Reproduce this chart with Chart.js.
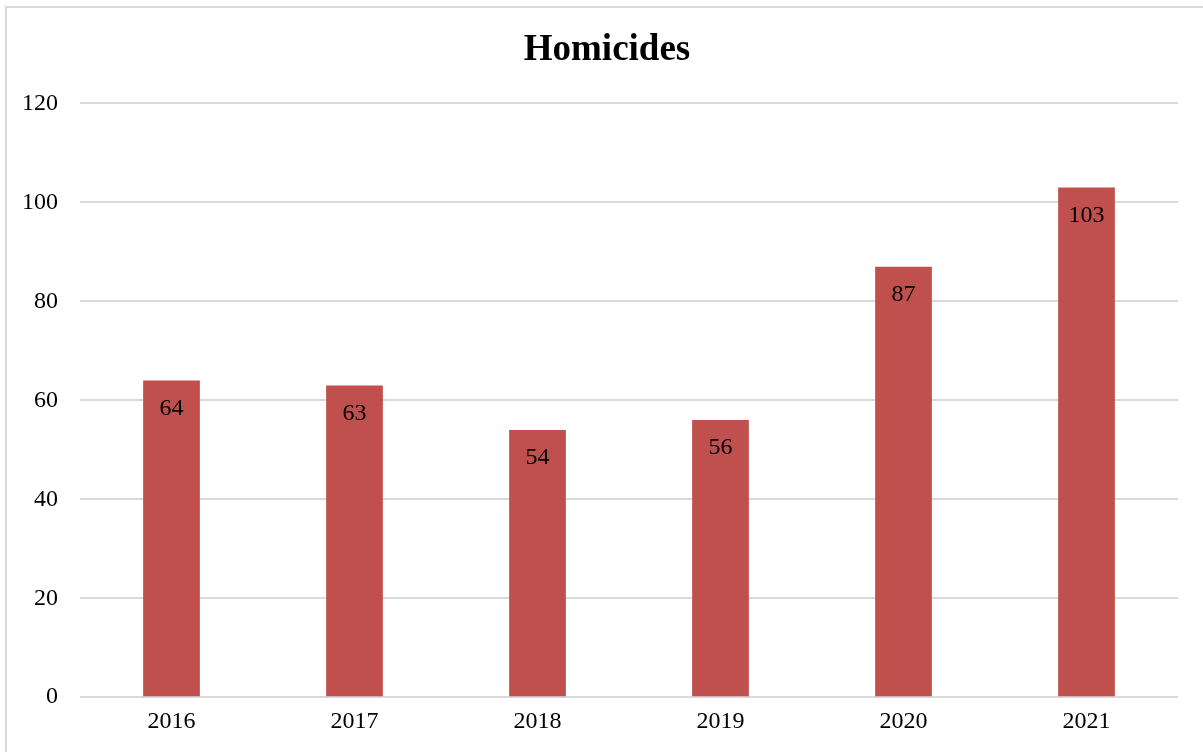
<!DOCTYPE html>
<html>
<head>
<meta charset="utf-8">
<script src="https://cdn.jsdelivr.net/npm/chart.js@4/dist/chart.umd.min.js"></script>
<style>
  html, body { margin: 0; padding: 0; background: #fff; overflow: hidden; }
  #box {
    position: absolute; left: 5px; top: 6px;
    width: 1210px; height: 766px;
    border: 2px solid #d9d9d9; box-sizing: border-box;
  }
</style>
</head>
<body>
<div id="box"><canvas id="myChart"></canvas></div>
<script>
// yearly homicide counts
const years = ['2016', '2017', '2018', '2019', '2020', '2021'];
const homicides = [64, 63, 54, 56, 87, 103];

const serif = '"Liberation Serif", "Times New Roman", serif';

// writes the value just inside the top of each bar
const barValues = {
  id: 'barValues',
  afterDatasetsDraw(chart) {
    const ctx = chart.ctx;
    ctx.save();
    ctx.font = '24px ' + serif;
    ctx.fillStyle = '#000';
    ctx.textAlign = 'center';
    ctx.textBaseline = 'middle';
    chart.getDatasetMeta(0).data.forEach(function (bar, i) {
      ctx.fillText(chart.data.datasets[0].data[i], bar.x, bar.y + 28);
    });
    ctx.restore();
  }
};

const data = {
  labels: years,
  datasets: [{
    label: 'Homicides',
    data: homicides,
    backgroundColor: '#C0504D',
    barPercentage: 0.31,
    categoryPercentage: 1.0
  }]
};

const config = {
  type: 'bar',
  data: data,
  options: {
    responsive: true,
    maintainAspectRatio: false,
    animation: false,
    layout: { padding: { left: 0, right: 6, top: 20, bottom: 32 } },
    plugins: {
      legend: { display: false },
      tooltip: { enabled: false },
      title: {
        display: true,
        text: 'Homicides',
        color: '#000',
        font: { family: serif, size: 37, weight: 'bold' },
        padding: { top: 0, bottom: 31 }
      }
    },
    scales: {
      x: {
        grid: { display: false },
        border: { display: false },
        ticks: { color: '#000', font: { family: serif, size: 24 }, padding: 2 }
      },
      y: {
        min: 0, max: 120,
        ticks: { stepSize: 20, color: '#000', font: { family: serif, size: 24 }, padding: 22 },
        grid: { color: '#d9d9d9', lineWidth: 2, drawTicks: false },
        border: { display: false },
        afterFit: function (scale) { scale.width = 73; }
      },
      // empty right-hand margin so the title stays centred on the whole box
      gap: {
        position: 'right',
        min: 0, max: 120,
        grid: { display: false },
        border: { display: false },
        ticks: { display: false },
        afterFit: function (scale) { scale.width = 29; }
      }
    }
  },
  plugins: [barValues]
};

const myChart = new Chart(document.getElementById('myChart'), config);
</script>
</body>
</html>
